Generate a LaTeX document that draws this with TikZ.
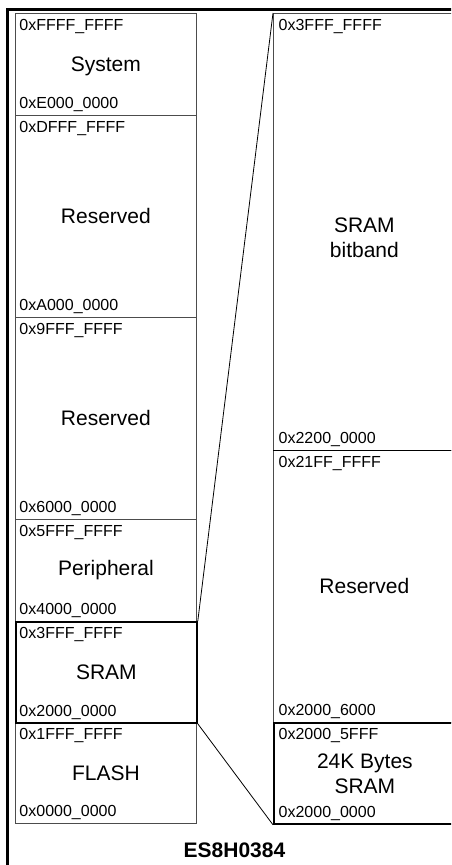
\documentclass[tikz,border=0pt]{standalone}
\usepackage{fontspec}
\setmainfont{Liberation Sans}
\usetikzlibrary{calc}
\begin{document}
\begin{tikzpicture}[x=1pt,y=-1pt,
  lbox/.style={draw=black!70, line width=0.8pt, inner sep=0pt, anchor=north west, minimum width=181pt},
  rbox/.style={draw=black!70, line width=0.8pt, inner sep=0pt, anchor=north west, minimum width=182pt},
  thickbox/.style={draw=black, line width=1.8pt},
  addr/.style={inner sep=0pt, anchor=base west, font=\fontsize{16}{19}\selectfont},
  mid/.style={inner sep=0pt, anchor=base, font=\fontsize{21}{25}\selectfont},
  mid2/.style={inner sep=0pt, align=center, font=\fontsize{21}{25}\selectfont},
  link/.style={draw=black, line width=0.8pt}]
\useasboundingbox (0,0) rectangle (451,865);
\clip (0,0) rectangle (451,865);
\draw[line width=2.5pt] (7.3,900) |- (480,9.3);
% left column
\node[lbox, minimum height=102pt] (sys)   at (15,13)  {};
\node[lbox, minimum height=202pt] (res1)  at (15,115) {};
\node[lbox, minimum height=202pt] (res2)  at (15,317) {};
\node[lbox, minimum height=102pt] (per)   at (15,519) {};
\node[lbox, minimum height=101pt] (flash) at (15,722) {};
\node[lbox, thickbox, minimum height=101pt] (sram) at (15,621) {};
% right column
\node[rbox, minimum height=437pt] (bitband) at (273,13)  {};
\node[rbox, minimum height=272pt] (resR)    at (273,450) {};
\draw[black, line width=0.8pt] (resR.north west) -- (resR.north east);
\node[rbox, thickbox, minimum height=101pt] (sram24) at (273,722) {};
% connectors
\draw[link] (sram.north east) -- (bitband.north west);
\draw[link] (sram.south east) -- (sram24.south west);
% left labels
\node[addr] (sysT)   at ($(sys.north west)+(4.3,17.7)$)   {0xFFFF\_FFFF};
\node[addr] (sysB)   at ($(sys.south west)+(4.3,-7.7)$)   {0xE000\_0000};
\node[addr] (res1T)  at ($(res1.north west)+(4.3,17.7)$)  {0xDFFF\_FFFF};
\node[addr] (res1B)  at ($(res1.south west)+(4.3,-7.7)$)  {0xA000\_0000};
\node[addr] (res2T)  at ($(res2.north west)+(4.3,17.7)$)  {0x9FFF\_FFFF};
\node[addr] (res2B)  at ($(res2.south west)+(4.3,-7.7)$)  {0x6000\_0000};
\node[addr] (perT)   at ($(per.north west)+(4.3,17.7)$)   {0x5FFF\_FFFF};
\node[addr] (perB)   at ($(per.south west)+(4.3,-7.7)$)   {0x4000\_0000};
\node[addr] (sramT)  at ($(sram.north west)+(4.3,17.7)$)  {0x3FFF\_FFFF};
\node[addr] (sramB)  at ($(sram.south west)+(4.3,-7.7)$)  {0x2000\_0000};
\node[addr] (flashT) at ($(flash.north west)+(4.3,17.7)$) {0x1FFF\_FFFF};
\node[addr] (flashB) at ($(flash.south west)+(4.3,-7.7)$) {0x0000\_0000};
\node[mid] (sysL)   at ($(sys.center)+(0,7.5)$)   {System};
\node[mid] (res1L)  at ($(res1.center)+(0,7.5)$)  {Reserved};
\node[mid] (res2L)  at ($(res2.center)+(0,7.5)$)  {Reserved};
\node[mid] (perL)   at ($(per.center)+(0,5)$)     {Peripheral};
\node[mid] (sramL)  at ($(sram.center)+(0,7.5)$)  {SRAM};
\node[mid] (flashL) at ($(flash.center)+(0,7.5)$) {FLASH};
% right labels
\node[addr] (bbT)  at ($(bitband.north west)+(5.5,17.7)$) {0x3FFF\_FFFF};
\node[addr] (bbB)  at ($(bitband.south west)+(5.5,-7.7)$) {0x2200\_0000};
\node[addr] (resRT) at ($(resR.north west)+(5.5,17.7)$)   {0x21FF\_FFFF};
\node[addr] (resRB) at ($(resR.south west)+(5.5,-7.7)$)   {0x2000\_6000};
\node[addr] (s24T) at ($(sram24.north west)+(5.5,17.7)$)  {0x2000\_5FFF};
\node[addr] (s24B) at ($(sram24.south west)+(5.5,-7.7)$)  {0x2000\_0000};
\node[mid2] (bbL)   at ($(bitband.center)+(0,6)$) {SRAM\\bitband};
\node[mid] (resRL)  at ($(resR.center)+(0,7.5)$)  {Reserved};
\node[mid2] (s24L)  at (sram24.center) {24K Bytes\\SRAM};
% title
\node[inner sep=0pt, anchor=base, font=\bfseries\fontsize{21}{25}\selectfont] (title) at (234.5,857) {ES8H0384};
\end{tikzpicture}
\end{document}
